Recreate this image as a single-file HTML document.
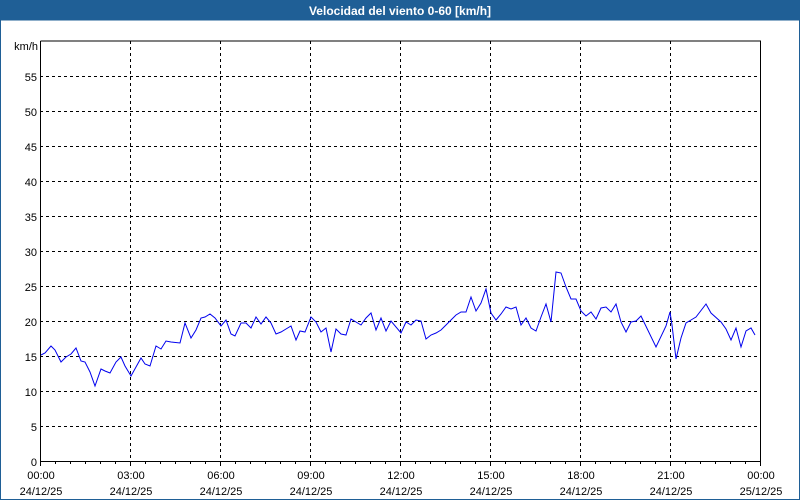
<!DOCTYPE html>
<html><head><meta charset="utf-8"><style>
body{margin:0;width:800px;height:500px;overflow:hidden;background:#fff;font-family:"Liberation Sans",sans-serif}
</style></head><body>
<svg width="800" height="500" xmlns="http://www.w3.org/2000/svg" style="display:block">
<rect x="0" y="0" width="800" height="500" fill="#fff"/>
<rect x="0" y="0" width="800" height="20" fill="#1f5f96"/>
<rect x="0.5" y="20" width="799" height="479.5" fill="none" stroke="#1f5f96" stroke-width="1"/>
<text x="400" y="15" text-anchor="middle" font-size="12" font-weight="bold" fill="#fff" font-family="Liberation Sans, sans-serif">Velocidad del viento 0-60 [km/h]</text>
<g stroke="#000" stroke-width="1" stroke-dasharray="3,3">
<line x1="40" y1="426.5" x2="760" y2="426.5"/><line x1="40" y1="391.5" x2="760" y2="391.5"/><line x1="40" y1="356.5" x2="760" y2="356.5"/><line x1="40" y1="321.5" x2="760" y2="321.5"/><line x1="40" y1="286.5" x2="760" y2="286.5"/><line x1="40" y1="251.5" x2="760" y2="251.5"/><line x1="40" y1="216.5" x2="760" y2="216.5"/><line x1="40" y1="181.5" x2="760" y2="181.5"/><line x1="40" y1="146.5" x2="760" y2="146.5"/><line x1="40" y1="111.5" x2="760" y2="111.5"/><line x1="40" y1="76.5" x2="760" y2="76.5"/>
<line x1="130.5" y1="41" x2="130.5" y2="461"/><line x1="220.5" y1="41" x2="220.5" y2="461"/><line x1="310.5" y1="41" x2="310.5" y2="461"/><line x1="400.5" y1="41" x2="400.5" y2="461"/><line x1="490.5" y1="41" x2="490.5" y2="461"/><line x1="580.5" y1="41" x2="580.5" y2="461"/><line x1="670.5" y1="41" x2="670.5" y2="461"/>
</g>
<path d="M40.5 41V461.5H760.5V41H40.5" fill="none" stroke="#000" stroke-width="1"/>
<g stroke="#000" stroke-width="1">
<path d="M40.5 461v5M55.5 461v3M70.5 461v3M85.5 461v3M100.5 461v3M115.5 461v3M130.5 461v5M145.5 461v3M160.5 461v3M175.5 461v3M190.5 461v3M205.5 461v3M220.5 461v5M235.5 461v3M250.5 461v3M265.5 461v3M280.5 461v3M295.5 461v3M310.5 461v5M325.5 461v3M340.5 461v3M355.5 461v3M370.5 461v3M385.5 461v3M400.5 461v5M415.5 461v3M430.5 461v3M445.5 461v3M460.5 461v3M475.5 461v3M490.5 461v5M505.5 461v3M520.5 461v3M535.5 461v3M550.5 461v3M565.5 461v3M580.5 461v5M595.5 461v3M610.5 461v3M625.5 461v3M640.5 461v3M655.5 461v3M670.5 461v5M685.5 461v3M700.5 461v3M715.5 461v3M730.5 461v3M745.5 461v3M760.5 461v5"/>
</g>
<g font-size="11" fill="#000" text-anchor="end" font-family="Liberation Sans, sans-serif">
<text x="38" y="50">km/h</text>
<text x="37" y="81">55</text><text x="37" y="116">50</text><text x="37" y="151">45</text><text x="37" y="186">40</text><text x="37" y="221">35</text><text x="37" y="256">30</text><text x="37" y="291">25</text><text x="37" y="326">20</text><text x="37" y="361">15</text><text x="37" y="396">10</text><text x="37" y="431">5</text><text x="37" y="466">0</text>
</g>
<g font-size="11" fill="#000" text-anchor="middle" font-family="Liberation Sans, sans-serif">
<text x="41" y="479">00:00</text><text x="41" y="495">24/12/25</text>
<text x="131" y="479">03:00</text><text x="131" y="495">24/12/25</text>
<text x="221" y="479">06:00</text><text x="221" y="495">24/12/25</text>
<text x="311" y="479">09:00</text><text x="311" y="495">24/12/25</text>
<text x="401" y="479">12:00</text><text x="401" y="495">24/12/25</text>
<text x="491" y="479">15:00</text><text x="491" y="495">24/12/25</text>
<text x="581" y="479">18:00</text><text x="581" y="495">24/12/25</text>
<text x="671" y="479">21:00</text><text x="671" y="495">24/12/25</text>
<text x="761" y="479">00:00</text><text x="761" y="495">25/12/25</text>
</g>
<polyline fill="none" stroke="#0000ee" stroke-width="1" points="41,355 45,353 51,346 55,350 61,362 66,357 71,354 76,348 81,361 85,362 90,372 95,386 101,369 105,371 110,373 116,362 121,357 125,366 131,376 136,367 141,358 145,364 150,366 156,346 161,349 166,341 171,342 180,343 185,323 191,338 196,330 201,318 205,317 210,314 215,318 221,326 226,320 231,334 235,336 241,323 246,323 251,328 256,317 261,324 266,317 271,323 276,334 281,332 286,329 291,326 296,340 300,331 305,332 311,317 316,322 321,332 326,328 331,352 336,329 341,334 346,335 351,319 356,322 361,325 366,318 371,313 376,330 381,318 386,331 391,321 401,333 406,322 411,325 416,320 421,321 426,339 431,335 436,333 441,330 446,325 451,320 456,315 461,312 466,312 471,297 476,311 481,303 486,289 491,313 496,320 501,314 506,307 511,309 516,307 521,325 526,318 531,328 536,331 541,317 546,304 551,322 556,272 561,273 566,287 571,299 576,299 581,311 586,316 591,312 596,319 601,308 606,307 611,312 616,304 621,322 626,332 631,322 636,321 641,316 656,347 666,326 670,312 672,325 676,359 681,338 686,323 691,320 696,317 706,304 711,313 721,322 726,329 731,340 736,328 741,347 746,331 751,328 755,335"/>
</svg>
</body></html>
